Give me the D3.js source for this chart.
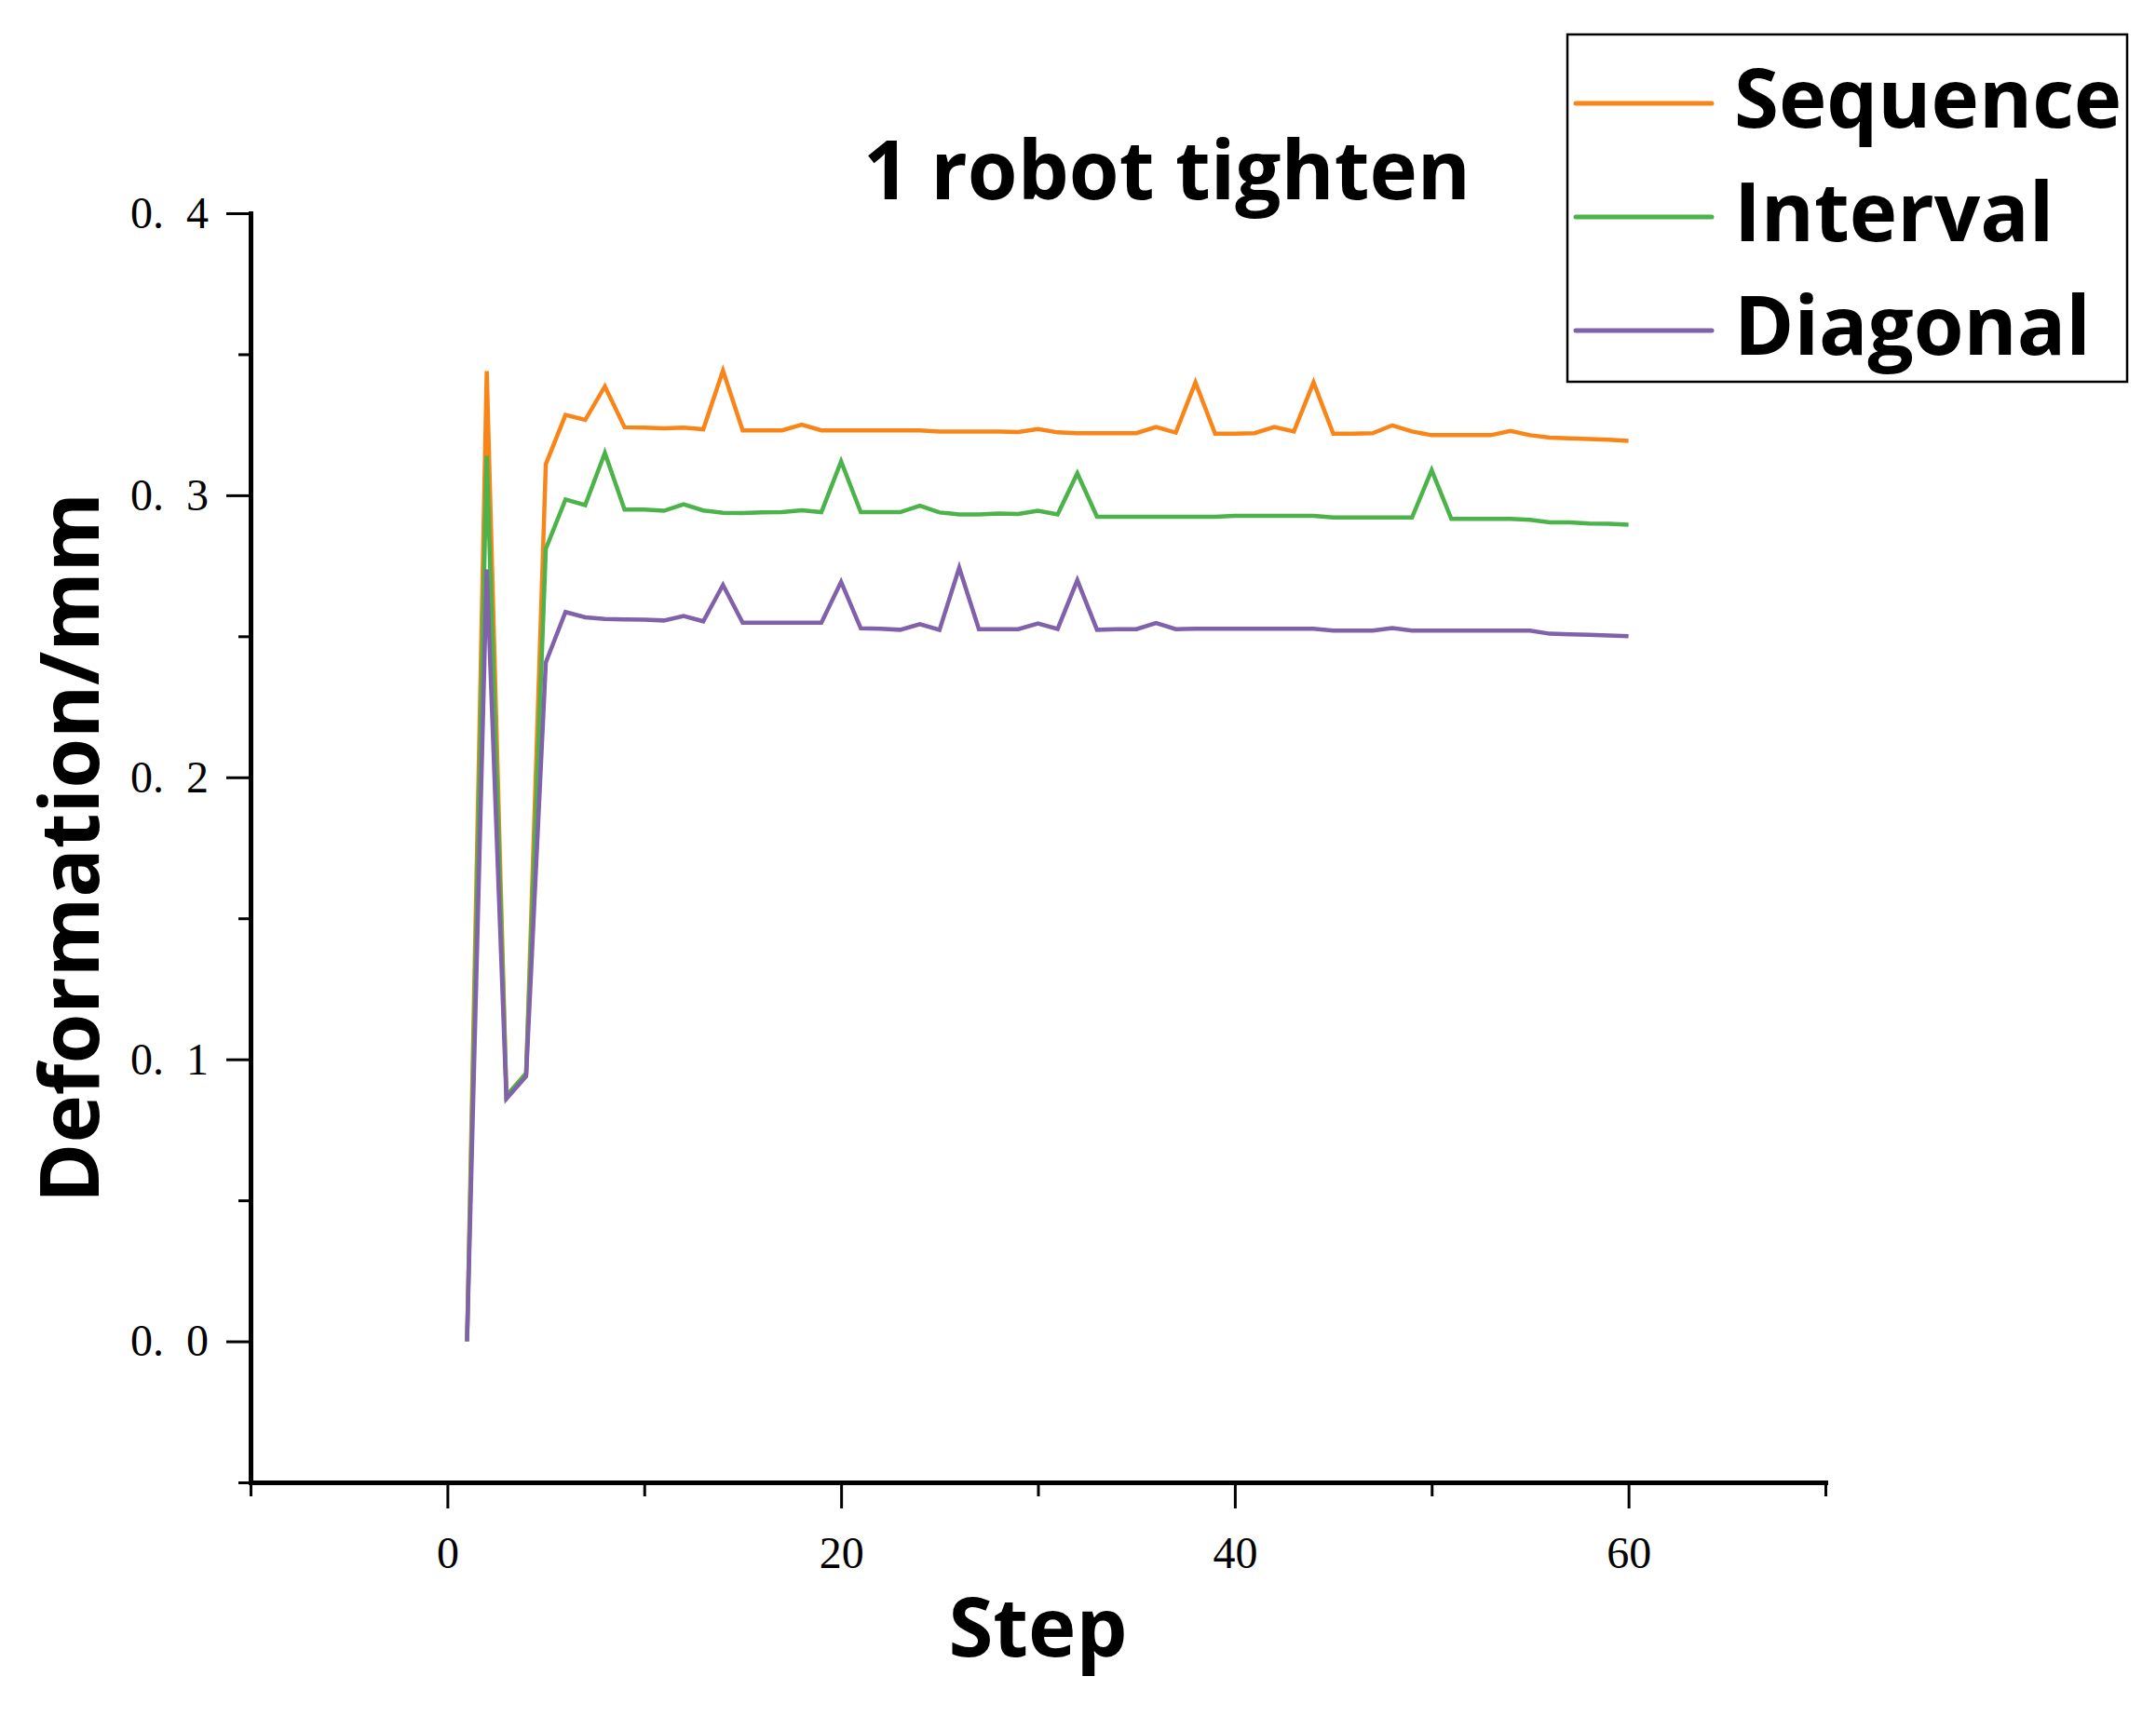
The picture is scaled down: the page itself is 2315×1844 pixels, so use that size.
<!DOCTYPE html>
<html>
<head>
<meta charset="utf-8">
<script src="https://cdn.jsdelivr.net/npm/d3@7"></script>
<style>
    body { margin: 0; background: #fff; }
    svg { display: block; }
</style>
</head>
<body>
<svg id="chart"></svg>
<script>
    // data (steps 1..60)
    const steps = d3.range(1, 61);

    const sequenceValues = [
        0, 0.344, 0.087, 0.095, 0.311, 0.3285, 0.3267, 0.3386, 0.3241, 0.324,
        0.3237, 0.324, 0.3234, 0.3442, 0.323, 0.323, 0.323, 0.325, 0.323, 0.323,
        0.323, 0.323, 0.323, 0.323, 0.3226, 0.3226, 0.3226, 0.3226, 0.3224, 0.3235,
        0.3223, 0.322, 0.322, 0.322, 0.322, 0.3242, 0.3222, 0.340, 0.3218, 0.3218,
        0.322, 0.3242, 0.3226, 0.340, 0.3218, 0.3218, 0.322, 0.3248, 0.3226, 0.3213,
        0.3213, 0.3213, 0.3213, 0.3228, 0.3213, 0.3204, 0.3202, 0.3199, 0.3197, 0.3193
    ];

    const intervalValues = [
        0, 0.314, 0.087, 0.095, 0.281, 0.2985, 0.2965, 0.315, 0.2949, 0.2949,
        0.2945, 0.2968, 0.2946, 0.2938, 0.2937, 0.2939, 0.294, 0.2947, 0.294, 0.312,
        0.294, 0.294, 0.294, 0.2963, 0.2939, 0.2932, 0.2932, 0.2935, 0.2934, 0.2945,
        0.2932, 0.3078, 0.2924, 0.2924, 0.2924, 0.2924, 0.2924, 0.2924, 0.2924, 0.2927,
        0.2927, 0.2927, 0.2927, 0.2927, 0.2921, 0.2921, 0.2921, 0.2921, 0.2921, 0.3089,
        0.2916, 0.2916, 0.2916, 0.2916, 0.2913, 0.2904, 0.2904, 0.29, 0.2899, 0.2896
    ];

    const diagonalValues = [
        0, 0.2737, 0.086, 0.094, 0.2407, 0.2586, 0.2567, 0.2561, 0.256, 0.2559,
        0.2556, 0.2572, 0.2553, 0.2682, 0.2548, 0.2548, 0.2548, 0.2548, 0.2548, 0.2693,
        0.2528, 0.2527, 0.2523, 0.2543, 0.2523, 0.2743, 0.2525, 0.2525, 0.2525, 0.2545,
        0.2526, 0.2699, 0.2523, 0.2525, 0.2525, 0.2547, 0.2525, 0.2527, 0.2527, 0.2527,
        0.2527, 0.2527, 0.2527, 0.2527, 0.252, 0.252, 0.252, 0.2529, 0.252, 0.252,
        0.252, 0.252, 0.252, 0.252, 0.252, 0.2509, 0.2507, 0.2505, 0.2503, 0.25
    ];

    const seriesNames = ['Sequence', 'Interval', 'Diagonal'];
    const seriesValues = [sequenceValues, intervalValues, diagonalValues];
    const seriesColors = ['#f98519', '#4bb34a', '#8061aa'];

    const xMajorTicks = [0, 20, 40, 60];
    const xMinorTicks = [-10, 10, 30, 50, 70];
    const yMajorTicks = [0, 0.1, 0.2, 0.3, 0.4];
    const yMinorTicks = [-0.05, 0.05, 0.15, 0.25, 0.35];

    const width = 2315;
    const height = 1844;
    const plot = { left: 269, right: 1960, top: 229, bottom: 1592 };

    const svg = d3.select('#chart')
        .attr('width', width)
        .attr('height', height);

    svg.append('rect')
        .attr('width', width)
        .attr('height', height)
        .attr('fill', '#fff');

    const xScale = d3.scaleLinear().domain([-10, 70]).range([plot.left, plot.right]);
    const yScale = d3.scaleLinear().domain([-0.05, 0.4]).range([plot.bottom, plot.top]);

    const tickFont = '"Liberation Serif", "DejaVu Serif", serif';
    const labelFont = '"Open Sans", "Noto Sans", sans-serif';

    // lines
    const line = d3.line()
        .x(d => xScale(d.step))
        .y(d => yScale(d.value));

    seriesValues.forEach((values, i) => {
        const pts = steps.map((s, j) => ({ step: s, value: values[j] }));
        svg.append('path')
            .datum(pts)
            .attr('fill', 'none')
            .attr('stroke', seriesColors[i])
            .attr('stroke-width', 4.5)
            .attr('stroke-linejoin', 'miter')
            .attr('d', line);
    });

    // x axis: minor ticks then major ticks with the domain line
    svg.append('g')
        .attr('transform', `translate(0,${plot.bottom})`)
        .call(d3.axisBottom(xScale).tickValues(xMinorTicks).tickSize(15).tickSizeOuter(0).tickFormat(''))
        .call(g => g.select('.domain').remove())
        .call(g => g.selectAll('line').attr('stroke-width', 3));

    svg.append('g')
        .attr('transform', `translate(0,${plot.bottom})`)
        .call(d3.axisBottom(xScale).tickValues(xMajorTicks).tickSize(28).tickSizeOuter(0).tickPadding(30))
        .call(g => g.select('.domain').attr('stroke-width', 5).attr('stroke-linecap', 'square'))
        .call(g => g.selectAll('line').attr('stroke-width', 3))
        .call(g => g.selectAll('text')
            .attr('font-family', tickFont)
            .attr('font-size', 48)
            .attr('fill', '#000'));

    // y axis
    svg.append('g')
        .attr('transform', `translate(${plot.left},0)`)
        .call(d3.axisLeft(yScale).tickValues(yMinorTicks).tickSize(13).tickSizeOuter(0).tickFormat(''))
        .call(g => g.select('.domain').remove())
        .call(g => g.selectAll('line').attr('stroke-width', 3));

    svg.append('g')
        .attr('transform', `translate(${plot.left},0)`)
        .call(d3.axisLeft(yScale).tickValues(yMajorTicks).tickSize(26).tickSizeOuter(0).tickPadding(19)
            .tickFormat(d => d3.format('.1f')(d).replace('.', '.\u2002')))
        .call(g => g.select('.domain').attr('stroke-width', 5).attr('stroke-linecap', 'square'))
        .call(g => g.selectAll('line').attr('stroke-width', 3))
        .call(g => g.selectAll('text')
            .attr('font-family', tickFont)
            .attr('font-size', 48)
            .attr('fill', '#000'));

    // title and axis labels
    svg.append('text')
        .attr('x', 1253)
        .attr('y', 214)
        .attr('text-anchor', 'middle')
        .attr('font-family', labelFont)
        .attr('font-weight', 700)
        .attr('font-size', 87)
        .text('1 robot tighten');

    svg.append('text')
        .attr('x', (plot.left + plot.right) / 2)
        .attr('y', 1779)
        .attr('text-anchor', 'middle')
        .attr('font-family', labelFont)
        .attr('font-weight', 700)
        .attr('font-size', 87)
        .text('Step');

    svg.append('text')
        .attr('transform', `translate(106,${(plot.top + plot.bottom) / 2}) rotate(-90)`)
        .attr('text-anchor', 'middle')
        .attr('font-family', labelFont)
        .attr('font-weight', 700)
        .attr('font-size', 87)
        .text('Deformation/mm');

    // legend
    const legend = svg.append('g');
    legend.append('rect')
        .attr('x', 1683)
        .attr('y', 37)
        .attr('width', 601)
        .attr('height', 373)
        .attr('fill', '#fff')
        .attr('stroke', '#000')
        .attr('stroke-width', 2.5);

    seriesNames.forEach((name, i) => {
        const ly = 111 + i * 122;
        legend.append('line')
            .attr('x1', 1692)
            .attr('x2', 1838)
            .attr('y1', ly)
            .attr('y2', ly)
            .attr('stroke', seriesColors[i])
            .attr('stroke-width', 5)
            .attr('stroke-linecap', 'round');
        legend.append('text')
            .attr('x', 1862)
            .attr('y', ly + 26)
            .attr('font-family', labelFont)
            .attr('font-weight', 700)
            .attr('font-size', 87)
            .text(name);
    });
</script>
</body>
</html>
